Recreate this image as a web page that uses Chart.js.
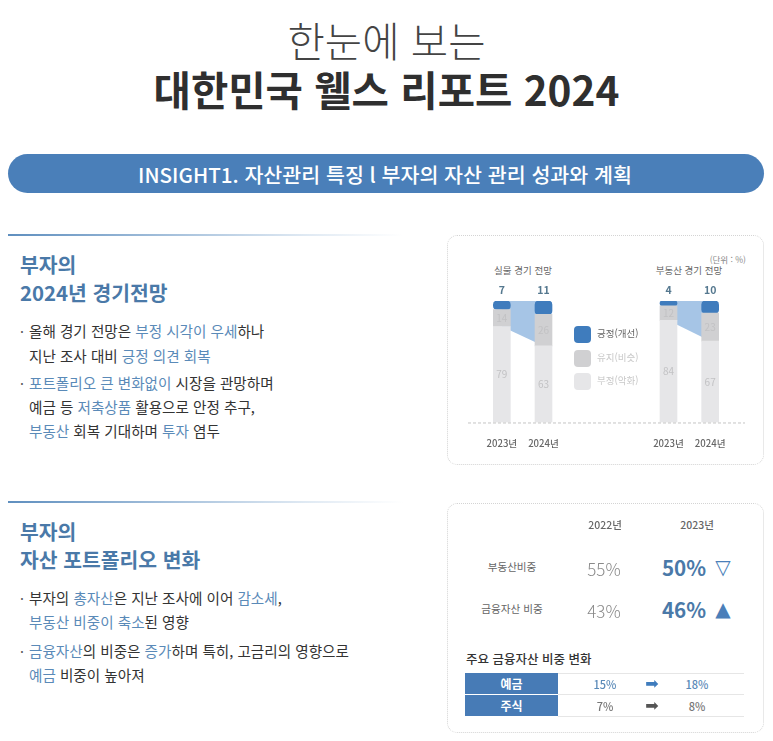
<!DOCTYPE html>
<html lang="ko"><head><meta charset="utf-8">
<script src="https://cdn.jsdelivr.net/npm/chart.js@4"></script>
<style>
html,body{margin:0;padding:0;background:#fff}
body{position:relative;width:773px;height:741px;overflow:hidden;font-family:"Noto Sans CJK KR","Noto Sans",sans-serif;color:#333}
.t{position:absolute;white-space:nowrap;line-height:1;transform:translateY(-50%)}
.c{transform:translate(-50%,-50%)}
.r{transform:translate(-100%,-50%)}
.b{color:#5a8ab8}
.h{font-size:20.4px;font-weight:700;color:#4a79a8}
.p{font-size:14.6px;color:#333}
.dot{font-size:14px;color:#555}
.rule{position:absolute;left:8px;width:395px;height:2px;background:linear-gradient(90deg,#5f8fbf,#dfe9f3 75%,#fff)}
.panel{position:absolute;left:447px;width:315px;height:228px;border:1px dotted #d4d4d4;border-radius:10px;box-sizing:content-box}
.banner{position:absolute;left:8px;top:154px;width:756px;height:39px;border-radius:20px;background:#4a7fb9}
.sw{position:absolute;width:17px;height:17px;border-radius:4px}
canvas{position:absolute}
#wrap{position:absolute;left:447px;top:281px;width:316px;height:190px}
.cell{position:absolute;left:465px;width:93px;height:21px;background:#477bb6;color:#fff;font-size:12px;font-weight:700;text-align:center;line-height:21px}
.ln{position:absolute;left:558px;width:186px;height:1px;background:#e6e6e6}
#title{position:absolute;left:0;top:15px;width:773px;text-align:center;font-size:40.6px;line-height:49px;color:#444;font-weight:300}
#title b{font-weight:700;color:#2f2f2f}
</style></head><body>
<div id="title">한눈에 보는<br><b>대한민국 웰스 리포트 2024</b></div>
<div class="banner"></div>
<div class="t c" style="left:385px;top:174px;font-size:20.6px;font-weight:500;color:#fff">INSIGHT1. 자산관리 특징 l 부자의 자산 관리 성과와 계획</div>

<div class="rule" style="top:234px"></div>
<div class="t h" style="left:20px;top:264px">부자의</div>
<div class="t h" style="left:20px;top:292px">2024년 경기전망</div>
<div class="t dot" style="left:20px;top:331px">·</div>
<div class="t p" style="left:29px;top:331px">올해 경기 전망은 <span class="b">부정 시각이 우세</span>하나</div>
<div class="t p" style="left:29px;top:356px">지난 조사 대비 <span class="b">긍정 의견 회복</span></div>
<div class="t dot" style="left:20px;top:383px">·</div>
<div class="t p" style="left:29px;top:383px"><span class="b">포트폴리오 큰 변화없이</span> 시장을 관망하며</div>
<div class="t p" style="left:29px;top:407px">예금 등 <span class="b">저축상품</span> 활용으로 안정 추구,</div>
<div class="t p" style="left:29px;top:431px"><span class="b">부동산</span> 회복 기대하며 <span class="b">투자</span> 염두</div>

<div class="rule" style="top:501px"></div>
<div class="t h" style="left:20px;top:531px">부자의</div>
<div class="t h" style="left:20px;top:559px">자산 포트폴리오 변화</div>
<div class="t dot" style="left:20px;top:598px">·</div>
<div class="t p" style="left:29px;top:598px">부자의 <span class="b">총자산</span>은 지난 조사에 이어 <span class="b">감소세</span>,</div>
<div class="t p" style="left:29px;top:622px"><span class="b">부동산 비중이 축소</span>된 영향</div>
<div class="t dot" style="left:20px;top:651px">·</div>
<div class="t p" style="left:29px;top:651px"><span class="b">금융자산</span>의 비중은 <span class="b">증가</span>하며 특히, 고금리의 영향으로</div>
<div class="t p" style="left:29px;top:675px"><span class="b">예금</span> 비중이 높아져</div>

<div class="panel" style="top:235px"></div>
<div class="t r" style="left:746px;top:259px;font-size:8.5px;color:#888">(단위 : %)</div>
<div class="t c" style="left:523px;top:271px;font-size:9.5px;color:#666">실물 경기 전망</div>
<div class="t c" style="left:689px;top:271px;font-size:9.5px;color:#666">부동산 경기 전망</div>
<div id="wrap"><canvas id="chart" width="316" height="190" style="width:316px;height:190px"></canvas></div>
<div id="legend"></div>

<div class="panel" style="top:503px"></div>
<div id="panel2"></div>

<script>
const categories = ['2023년','2024년','','','2023년','2024년'];
const positive = [7,11,null,null,4,10];
const neutral = [14,26,null,null,12,23];
const negative = [79,63,null,null,84,67];
const bandTop = [100,100,null,null,100,100];
const seriesNames = ['긍정(개선)','유지(비슷)','부정(악화)'];
const seriesColors = ['#3f7cbd','#d0d0d2','#e6e6e8'];
const legendTextColors = ['#666','#c8c8c8','#c8c8c8'];
const shareYears = ['2022년','2023년'];
const shareRows = ['부동산비중','금융자산 비중'];
const share2022 = [55,43];
const share2023 = [50,46];
const shareMarks = ['▽','▲'];
const subTitle = '주요 금융자산 비중 변화';
const assetRows = ['예금','주식'];
const asset2022 = [15,7];
const asset2023 = [18,8];

const legendEl = document.getElementById('legend');
const legendTops = [326,350,373];
seriesNames.forEach((n,i)=>{
  legendEl.insertAdjacentHTML('beforeend',
   `<div class="sw" style="left:574px;top:${legendTops[i]}px;background:${seriesColors[i]}"></div>`+
   `<div class="t" style="left:597px;top:${legendTops[i]+8}px;font-size:9.5px;color:${legendTextColors[i]}">${n}</div>`);
});

const p2 = document.getElementById('panel2');
const add = (s)=>p2.insertAdjacentHTML('beforeend',s);
add(`<div class="t c" style="left:605px;top:525px;font-size:10.5px;color:#666;font-weight:500">${shareYears[0]}</div>`);
add(`<div class="t c" style="left:697px;top:525px;font-size:10.5px;color:#666;font-weight:500">${shareYears[1]}</div>`);
const rowY=[567,609], labX=[512,512];
shareRows.forEach((r,i)=>{
  add(`<div class="t c" style="left:${labX[i]}px;top:${rowY[i]}px;font-size:10.6px;color:#666">${r}</div>`);
  add(`<div class="t c" style="left:604px;top:${rowY[i]+1}px;font-size:17px;font-weight:300;color:#8a8a8a">${share2022[i]}%</div>`);
  add(`<div class="t c" style="left:684px;top:${rowY[i]}px;font-size:20.6px;font-weight:700;color:#4a79a8">${share2023[i]}%</div>`);
  add(`<div class="t c" style="left:723px;top:${rowY[i]}px;font-size:20px;color:#4a7fb9;font-family:'DejaVu Sans'">${shareMarks[i]}</div>`);
});
add(`<div class="t" style="left:466px;top:659px;font-size:12.5px;font-weight:500;color:#333">${subTitle}</div>`);
const cellTop=[673,695], valCol=['#5a8ab8','#777'], arrCol=['#3f7cbd','#555'];
add(`<div class="ln" style="top:673px"></div>`);
assetRows.forEach((r,i)=>{
  add(`<div class="cell" style="top:${cellTop[i]}px">${r}</div>`);
  add(`<div class="ln" style="top:${cellTop[i]+21}px"></div>`);
  const cy=cellTop[i]+11;
  add(`<div class="t c" style="left:605px;top:${cy}px;font-size:11px;font-weight:500;color:${valCol[i]}">${asset2022[i]}%</div>`);
  add(`<div class="t c" style="left:652px;top:${cy}px;font-size:16px;font-family:'DejaVu Sans';color:${arrCol[i]}">➡</div>`);
  add(`<div class="t c" style="left:697px;top:${cy}px;font-size:11px;font-weight:500;color:${valCol[i]}">${asset2023[i]}%</div>`);
});

const labelsPlugin = {
  id:'labels',
  afterDatasetsDraw(chart){
    const {ctx,scales:{y},chartArea:a}=chart;
    ctx.save();
    ctx.strokeStyle='#c4c4c4';ctx.setLineDash([3,2]);ctx.lineWidth=1;
    ctx.beginPath();ctx.moveTo(a.left-13,y.getPixelForValue(0)+.5);ctx.lineTo(a.right+14,y.getPixelForValue(0)+.5);ctx.stroke();
    ctx.setLineDash([]);
    ctx.textAlign='center';ctx.textBaseline='middle';
    chart.data.datasets.forEach((ds,di)=>{
      if(ds.type==='line')return;
      chart.getDatasetMeta(di).data.forEach((el,i)=>{
        const v=ds.data[i]; if(v==null)return;
        if(ds.data===positive){
          ctx.font='600 10.5px "Noto Sans CJK KR"';ctx.fillStyle='#55788f';
          ctx.fillText(v,el.x,y.getPixelForValue(100)-11);
        }else{
          ctx.font='10px "Noto Sans CJK KR"';ctx.fillStyle='#c2c2c4';
          ctx.fillText(v,el.x,(el.y+el.base)/2);
        }
      });
    });
    ctx.restore();
  }
};

new Chart(document.getElementById('chart'),{
  type:'bar',
  data:{labels:categories,datasets:[
    {label:seriesNames[2],data:negative,backgroundColor:seriesColors[2],stack:'s',order:1,barThickness:17},
    {label:seriesNames[1],data:neutral,backgroundColor:seriesColors[1],stack:'s',order:1,barThickness:17},
    {label:seriesNames[0],data:positive,backgroundColor:seriesColors[0],stack:'s',order:1,barThickness:17,borderRadius:4,borderSkipped:false},
    {type:'line',label:'bandTop',data:bandTop,stack:'u',order:10,borderWidth:0,pointRadius:0,fill:false,spanGaps:false},
    {type:'line',label:'bandBottom',data:negative,stack:'l',order:10,borderWidth:0,pointRadius:0,fill:{target:3},backgroundColor:'#a6c5e6',spanGaps:false}
  ]},
  options:{
    responsive:false,animation:false,devicePixelRatio:1,
    layout:{padding:{left:34,right:32,top:20,bottom:7}},
    plugins:{legend:{display:false},tooltip:{enabled:false}},
    scales:{
      x:{stacked:true,offset:true,grid:{display:false,drawTicks:false},border:{display:false},
         ticks:{padding:15,color:'#666',font:{size:9.6,family:'"Noto Sans CJK KR"',weight:500},maxRotation:0,autoSkip:false}},
      y:{stacked:true,display:false,min:0,max:100}
    }
  },
  plugins:[labelsPlugin]
});
</script>
</body></html>
